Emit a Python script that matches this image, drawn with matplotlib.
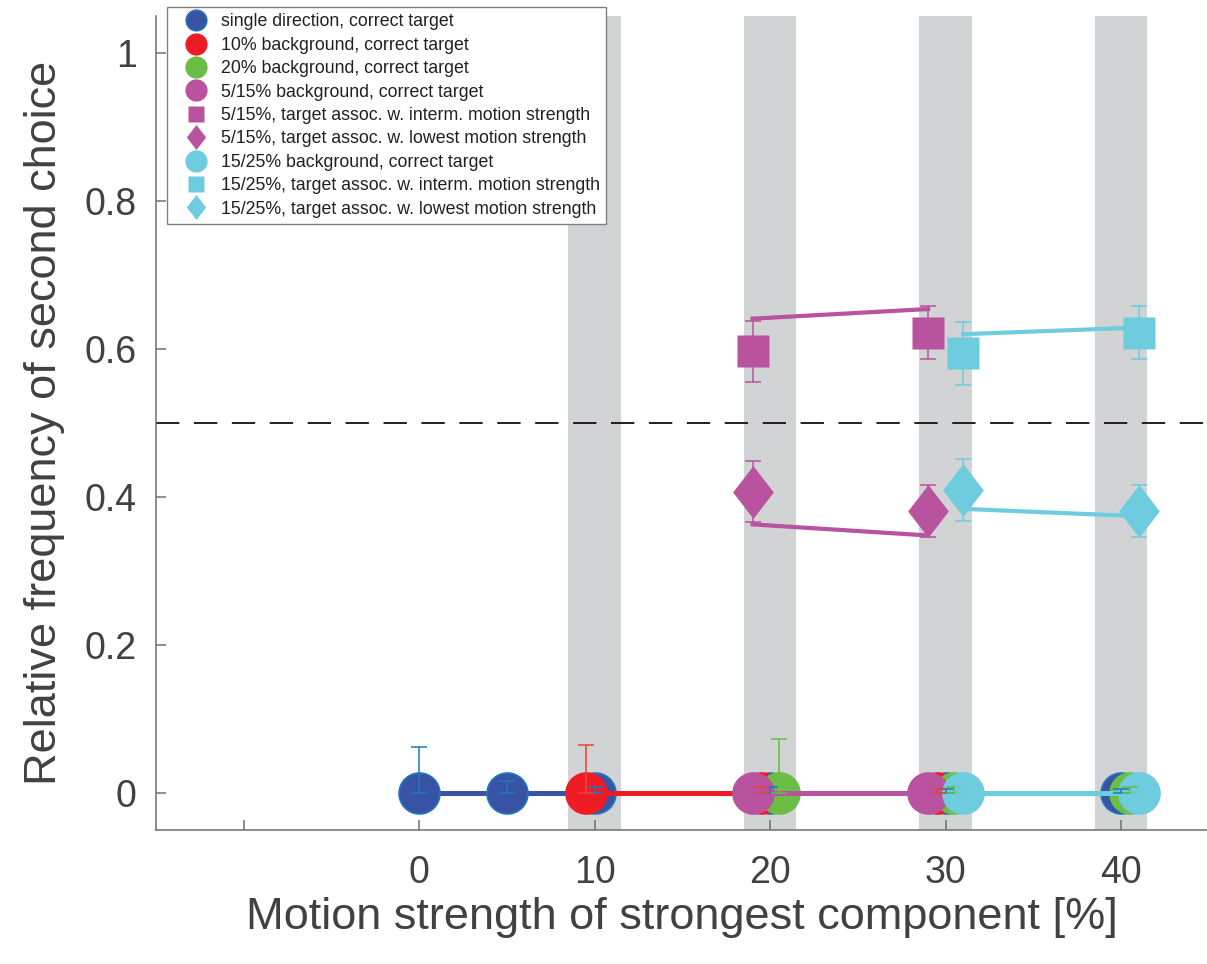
"""Relative frequency of second choice vs motion strength
"""
import numpy as np
import matplotlib.pyplot as plt
from matplotlib.path import Path
from matplotlib.lines import Line2D

plt.rcParams['font.family'] = ['Liberation Sans', 'DejaVu Sans']

# data at zero (correct target), upper error only
blue_x = [0, 5, 10, 20, 30, 40]
blue_y = [0, 0, 0, 0, 0, 0]
blue_err = [0.062, 0.016, 0.008, 0.008, 0.006, 0.006]

red_x = [9.5, 19.5, 29.5]
red_y = [0, 0, 0]
red_err = [0.065, 0.008, 0.006]

green_x = [20.5, 30.5, 40.5]
green_y = [0, 0, 0]
green_err = [0.073, 0.008, 0.008]

mag_x = [19, 29]
mag_y = [0, 0]
mag_err = [0.006, 0.006]

cyan_x = [31, 41]
cyan_y = [0, 0]
cyan_err = [0.008, 0.006]

# second choice, interm. / lowest motion strength
mag_sq_y = [0.597, 0.622]
mag_sq_lo = [0.556, 0.586]
mag_sq_hi = [0.638, 0.658]
cyan_sq_y = [0.594, 0.622]
cyan_sq_lo = [0.551, 0.586]
cyan_sq_hi = [0.637, 0.658]

mag_di_y = [0.407, 0.381]
mag_di_lo = [0.366, 0.346]
mag_di_hi = [0.448, 0.416]
cyan_di_y = [0.410, 0.381]
cyan_di_lo = [0.367, 0.346]
cyan_di_hi = [0.452, 0.416]

# model lines
mag_sq_fit = [0.641, 0.654]
cyan_sq_fit = [0.620, 0.629]
mag_di_fit = [0.363, 0.348]
cyan_di_fit = [0.384, 0.374]

band_centers = [10, 20, 30, 40]
x_ticks = [-10, 0, 10, 20, 30, 40]
x_ticklabels = ['', '0', '10', '20', '30', '40']
y_ticks = [0, 0.2, 0.4, 0.6, 0.8, 1]
y_ticklabels = ['0', '0.2', '0.4', '0.6', '0.8', '1']

labels = [
    'single direction, correct target',
    '10% background, correct target',
    '20% background, correct target',
    '5/15% background, correct target',
    '5/15%, target assoc. w. interm. motion strength',
    '5/15%, target assoc. w. lowest motion strength',
    '15/25% background, correct target',
    '15/25%, target assoc. w. interm. motion strength',
    '15/25%, target assoc. w. lowest motion strength',
]

BLUE = '#3953a4'
BLUE_E = '#1f78c1'
RED = '#ed1c24'
GREEN = '#6abd45'
MAG = '#b9529f'
CYAN = '#6dcddf'
BAND = '#d1d3d4'
TXT = '#414042'
SPINE = '#6d6e71'

diamond = Path([(0, 1), (0.77, 0), (0, -1), (-0.77, 0), (0, 1)],
               [Path.MOVETO, Path.LINETO, Path.LINETO, Path.LINETO, Path.CLOSEPOLY])

fig = plt.figure(figsize=(12.07, 9.64), dpi=100)
ax = fig.add_axes([156 / 1207, 134 / 964, 1051 / 1207, 814 / 964])

for c in band_centers:
    ax.axvspan(c - 1.5, c + 1.5, color=BAND, lw=0, zorder=0)
ax.axhline(0.5, color='#231f20', lw=1.4, ls=(0, (12, 7.5)), zorder=1)

# circles at zero
circ = [
    (blue_x, blue_y, blue_err, BLUE, BLUE_E, BLUE_E),
    (red_x, red_y, red_err, RED, RED, '#ef4136'),
    (green_x, green_y, green_err, GREEN, GREEN, GREEN),
    (mag_x, mag_y, mag_err, MAG, MAG, MAG),
    (cyan_x, cyan_y, cyan_err, CYAN, CYAN, CYAN),
]
for xs, ys, err, fc, ec, errc in circ:
    ax.plot(xs, ys, color=fc, lw=3.6, marker='o', ms=29.5, mfc=fc, mec=ec,
            mew=1.2, zorder=3)
for xs, ys, err, fc, ec, errc in circ:
    ax.errorbar(xs, ys, yerr=[np.zeros(len(err)), err], fmt='none',
                ecolor=errc, elinewidth=1.1, capsize=6, capthick=1.1, zorder=4)

# model lines
ax.plot(mag_x, mag_sq_fit, color=MAG, lw=3, zorder=2)
ax.plot(cyan_x, cyan_sq_fit, color=CYAN, lw=3, zorder=2)
ax.plot(mag_x, mag_di_fit, color=MAG, lw=3, zorder=2)
ax.plot(cyan_x, cyan_di_fit, color=CYAN, lw=3, zorder=2)

# squares and diamonds
sets = [
    (mag_x, mag_sq_y, mag_sq_lo, mag_sq_hi, MAG, 's', 23),
    (mag_x, mag_di_y, mag_di_lo, mag_di_hi, MAG, diamond, 38),
    (cyan_x, cyan_sq_y, cyan_sq_lo, cyan_sq_hi, CYAN, 's', 23),
    (cyan_x, cyan_di_y, cyan_di_lo, cyan_di_hi, CYAN, diamond, 38),
]
for xs, ys, lo, hi, col, mk, ms in sets:
    ys = np.array(ys)
    yerr = [ys - np.array(lo), np.array(hi) - ys]
    ax.errorbar(xs, ys, yerr=yerr, fmt='none', ecolor=col, elinewidth=1.1,
                capsize=6, capthick=1.1, zorder=3)
    ax.plot(xs, ys, ls='none', marker=mk, ms=ms, mfc=col, mec='none', zorder=3.5)

ax.set_xlim(-15, 44.9)
ax.set_ylim(-0.05, 1.05)
ax.set_xticks(x_ticks)
ax.set_xticklabels(x_ticklabels)
ax.set_yticks(y_ticks)
ax.set_yticklabels(y_ticklabels)
ax.tick_params(direction='in', length=7, width=1.1, color=SPINE,
               labelsize=27, labelcolor=TXT)
ax.tick_params(axis='x', pad=18)
ax.tick_params(axis='y', pad=14)
for s in ['top', 'right']:
    ax.spines[s].set_visible(False)
for s in ['left', 'bottom']:
    ax.spines[s].set_color(SPINE)
    ax.spines[s].set_linewidth(1.1)

ax.set_xlabel('Motion strength of strongest component [%]', fontsize=32.5,
              color=TXT, labelpad=4)
ax.set_ylabel('Relative frequency of second choice', fontsize=32.5,
              color=TXT, labelpad=14)

handles = [
    Line2D([], [], ls='none', marker='o', ms=15, mfc=BLUE, mec=BLUE_E),
    Line2D([], [], ls='none', marker='o', ms=15, mfc=RED, mec=RED),
    Line2D([], [], ls='none', marker='o', ms=15, mfc=GREEN, mec=GREEN),
    Line2D([], [], ls='none', marker='o', ms=15, mfc=MAG, mec=MAG),
    Line2D([], [], ls='none', marker='s', ms=12, mfc=MAG, mec='none'),
    Line2D([], [], ls='none', marker=diamond, ms=18, mfc=MAG, mec='none'),
    Line2D([], [], ls='none', marker='o', ms=15, mfc=CYAN, mec=CYAN),
    Line2D([], [], ls='none', marker='s', ms=12, mfc=CYAN, mec='none'),
    Line2D([], [], ls='none', marker=diamond, ms=18, mfc=CYAN, mec='none'),
]
leg = fig.legend(handles, labels, loc='upper left',
                 bbox_to_anchor=(167 / 1207, 1 - 7 / 964),
                 fontsize=12.8, frameon=True, fancybox=False,
                 edgecolor='#808080', framealpha=1, borderpad=0.36,
                 labelspacing=0.36, handlelength=2.55, handletextpad=0.1,
                 borderaxespad=0)
leg.get_frame().set_linewidth(1.0)
for t in leg.get_texts():
    t.set_color('#231f20')

fig.savefig('out.png', dpi=100)
